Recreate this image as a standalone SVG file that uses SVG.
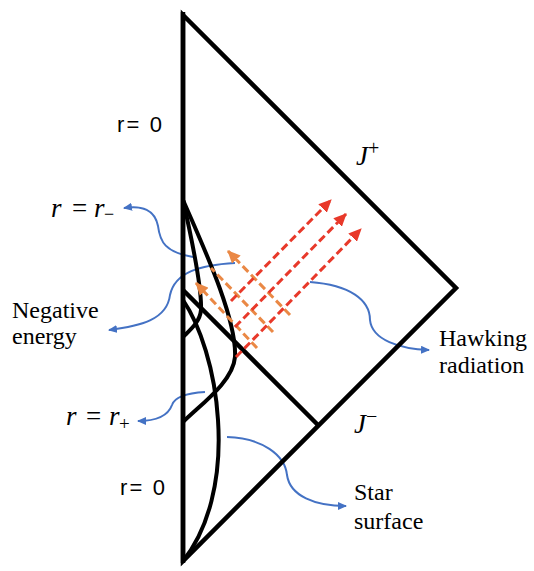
<svg xmlns="http://www.w3.org/2000/svg" width="534" height="571" viewBox="0 0 534 571">
<defs>
<style>
.blk{fill:none;stroke:#000;stroke-width:4.5;stroke-linejoin:miter}
.crv{fill:none;stroke:#000;stroke-width:4}
.blue{fill:none;stroke:#4472C4;stroke-width:2;marker-end:url(#ab)}
.red{fill:none;stroke:#E8392A;stroke-width:3;stroke-dasharray:8 4}
.org{fill:none;stroke:#EA8845;stroke-width:3;stroke-dasharray:8 4}
.sans{font-family:"Liberation Sans",Arial,sans-serif;font-size:22px;fill:#000}
.ser{font-family:"Liberation Serif","Times New Roman",serif;font-size:24px;fill:#000}
.math{font-family:"Liberation Serif","Times New Roman",serif;font-size:27px;fill:#000}
.it{font-style:italic}
</style>
<marker id="ab" markerWidth="9" markerHeight="8" refX="8" refY="4" orient="auto" markerUnits="userSpaceOnUse"><path d="M0,0 L9,4 L0,8 z" fill="#4472C4"/></marker>
<marker id="ar" markerWidth="13" markerHeight="12" refX="12" refY="6" orient="auto" markerUnits="userSpaceOnUse"><path d="M0,0 L13,6 L0,12 z" fill="#E8392A"/></marker>
<marker id="ao" markerWidth="13" markerHeight="12" refX="12" refY="6" orient="auto" markerUnits="userSpaceOnUse"><path d="M0,0 L13,6 L0,12 z" fill="#EA8845"/></marker>
</defs>
<rect width="534" height="571" fill="#fff"/>

<g id="connectors">
<path class="blue" d="M193,257 C165,252 160,242 158,226 C155,210 142,205 124,208"/>
<path class="blue" d="M235,263 C200,265 175,272 170,295 C167,320 140,326 109,330"/>
<path class="blue" d="M310,282 C350,285 370,300 370,320 C372,340 400,349 429,350"/>
<path class="blue" d="M205,392 C188,393 175,396 172,405 C168,416 155,421 138,421"/>
<path class="blue" d="M227,437 C262,438 285,455 287,475 C290,496 315,506 346,506"/>
</g>

<g id="penrose">
<path class="blk" d="M183,15 L456,288 L183,561 Z"/>
<line class="blk" x1="183" y1="12" x2="183" y2="563" stroke-width="5"/>
<line class="blk" x1="183" y1="290" x2="318" y2="425"/>
</g>
<g id="inner-horizon">
<path class="crv" d="M183,200 C192,240 202,290 201,310 C200,322 190,330 183,337"/>
</g>
<g id="outer-horizon">
<path class="crv" d="M183,200 C205,250 237,320 235,357 C233,382 200,405 183,422"/>
</g>
<g id="star-surface">
<path class="crv" d="M183,300 C200,325 215,370 218,420 C222,480 208,530 183,561"/>
</g>

<g id="negative-energy-rays">
<line class="org" x1="290" y1="315" x2="228" y2="251" marker-end="url(#ao)"/>
<line class="org" x1="273" y1="332" x2="211" y2="268"/>
<line class="org" x1="257" y1="348" x2="196" y2="283" marker-end="url(#ao)"/>
</g>
<g id="hawking-rays">
<line class="red" x1="231" y1="301" x2="331" y2="200" marker-end="url(#ar)"/>
<line class="red" x1="235" y1="327" x2="346" y2="214" marker-end="url(#ar)"/>
<line class="red" x1="236" y1="357" x2="361" y2="229" marker-end="url(#ar)"/>
</g>

<g id="label-r0-top"><text class="sans" x="117" y="132" textLength="45" lengthAdjust="spacing">r= 0</text></g>
<g id="label-r0-bottom"><text class="sans" x="120" y="495" textLength="45" lengthAdjust="spacing">r= 0</text></g>
<g id="label-rminus"><text class="math" y="217"><tspan class="it" x="51">r</tspan><tspan x="72">=</tspan><tspan class="it" x="94">r</tspan><tspan x="104" dy="3" font-size="18">−</tspan></text></g>
<g id="label-rplus"><text class="math" y="425"><tspan class="it" x="66">r</tspan><tspan x="86">=</tspan><tspan class="it" x="109">r</tspan><tspan x="119" dy="5" font-size="19">+</tspan></text></g>
<g id="label-Jplus"><text class="math" y="165"><tspan class="it" x="356">J</tspan><tspan x="368" dy="-10" font-size="20">+</tspan></text></g>
<g id="label-Jminus"><text class="math" y="433"><tspan class="it" x="354">J</tspan><tspan x="366" dy="-10" font-size="20">−</tspan></text></g>
<g id="label-negative"><text class="ser" x="12" y="318">Negative</text><text class="ser" x="12" y="344">energy</text></g>
<g id="label-hawking"><text class="ser" x="439" y="346">Hawking</text><text class="ser" x="439" y="373">radiation</text></g>
<g id="label-star"><text class="ser" x="354" y="500">Star</text><text class="ser" x="354" y="529">surface</text></g>
</svg>
